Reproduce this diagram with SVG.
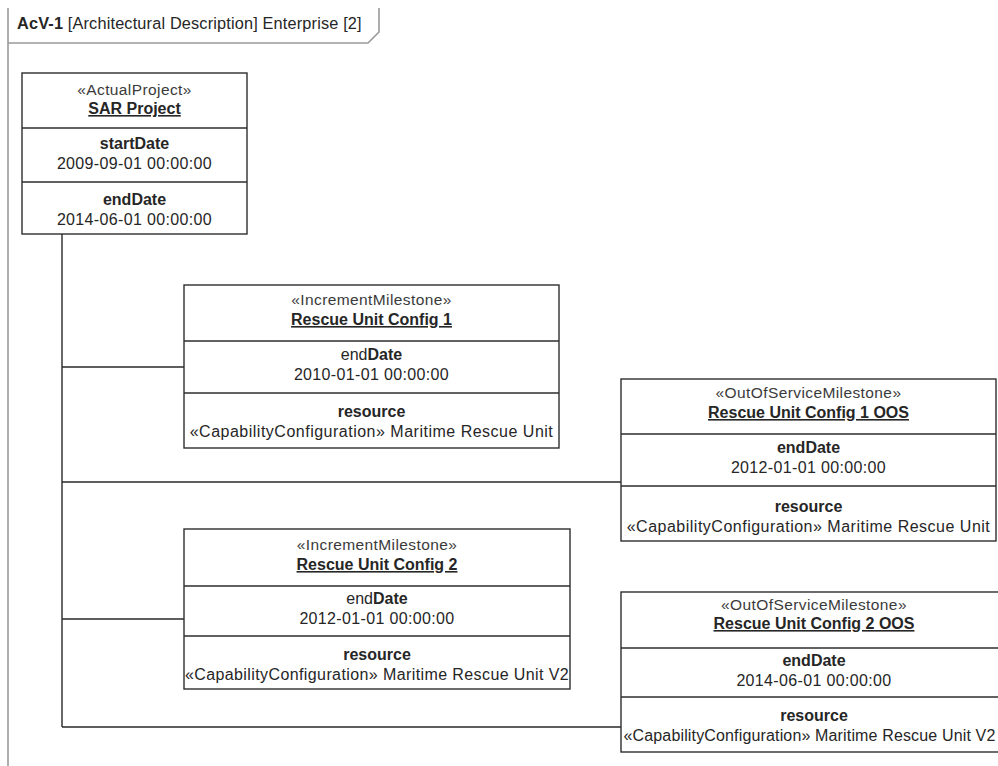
<svg xmlns="http://www.w3.org/2000/svg" width="998" height="766" viewBox="0 0 998 766">
<style>
text{font-family:"Liberation Sans",Arial,sans-serif;font-size:16px;fill:#262626;text-anchor:middle}
.st{fill:#3a3a3a;font-size:15.5px;letter-spacing:0.4px}
.nm{font-weight:bold;text-decoration:underline}
.b{font-weight:bold}
.dt{letter-spacing:0.35px}
.cap{letter-spacing:0.5px}
.cap2{letter-spacing:0.4px}
.box{fill:#fff;stroke:#2e2e2e;stroke-width:1.4}
.div{stroke:#2e2e2e;stroke-width:1.4;fill:none}
.con{stroke:#2a2a2a;stroke-width:1.4;fill:none}
.frame{stroke:#9a9a9a;stroke-width:1.6;fill:none}
</style>
<rect width="998" height="766" fill="#fff"/>
<g id="frame">
<path class="frame" d="M8,766 V8 M8,43 H368 L379,32 V8"/>
<text x="17" y="29" style="text-anchor:start;font-size:16.3px;letter-spacing:0.17px"><tspan font-weight="bold">AcV-1</tspan> [Architectural Description] Enterprise [2]</text>
</g>
<g id="connectors">
<path class="con" d="M62,234 V727 M62,367 H184 M62,482 H621 M62,619 H184 M62,727 H621"/>
</g>
<g id="sar-project">
<rect class="box" x="22" y="73" width="225" height="161"/>
<path class="div" d="M22,128 H247 M22,182 H247"/>
<text class="st" x="134.5" y="95">«ActualProject»</text>
<text class="nm" x="134.5" y="114">SAR Project</text>
<text class="b" x="134.5" y="149">startDate</text>
<text class="dt" x="134.5" y="169">2009-09-01 00:00:00</text>
<text class="b" x="134.5" y="205">endDate</text>
<text class="dt" x="134.5" y="225">2014-06-01 00:00:00</text>
</g>
<g id="rescue-unit-config-1">
<rect class="box" x="184" y="285" width="375" height="163"/>
<path class="div" d="M184,341 H559 M184,393 H559"/>
<text class="st" x="371.5" y="305">«IncrementMilestone»</text>
<text class="nm" x="371.5" y="325">Rescue Unit Config 1</text>
<text x="371.5" y="360">end<tspan font-weight="bold">Date</tspan></text>
<text class="dt" x="371.5" y="380">2010-01-01 00:00:00</text>
<text class="b" x="371.5" y="417">resource</text>
<text class="cap" x="371.5" y="437">«CapabilityConfiguration» Maritime Rescue Unit</text>
</g>
<g id="rescue-unit-config-1-oos">
<rect class="box" x="621" y="379" width="375" height="162"/>
<path class="div" d="M621,434 H996 M621,486 H996"/>
<text class="st" x="808.5" y="398">«OutOfServiceMilestone»</text>
<text class="nm" x="808.5" y="418">Rescue Unit Config 1 OOS</text>
<text class="b" x="808.5" y="453">endDate</text>
<text class="dt" x="808.5" y="473">2012-01-01 00:00:00</text>
<text class="b" x="808.5" y="512">resource</text>
<text class="cap" x="808.5" y="532">«CapabilityConfiguration» Maritime Rescue Unit</text>
</g>
<g id="rescue-unit-config-2">
<rect class="box" x="184" y="529" width="386" height="160"/>
<path class="div" d="M184,586 H570 M184,636 H570"/>
<text class="st" x="377" y="550">«IncrementMilestone»</text>
<text class="nm" x="377" y="570">Rescue Unit Config 2</text>
<text x="377" y="604">end<tspan font-weight="bold">Date</tspan></text>
<text class="dt" x="377" y="624">2012-01-01 00:00:00</text>
<text class="b" x="377" y="660">resource</text>
<text class="cap2" x="377" y="680">«CapabilityConfiguration» Maritime Rescue Unit V2</text>
</g>
<g id="rescue-unit-config-2-oos">
<rect class="box" x="621" y="592" width="390" height="160"/>
<path class="div" d="M621,648 H1011 M621,697 H1011"/>
<text class="st" x="814" y="610">«OutOfServiceMilestone»</text>
<text class="nm" x="814" y="629">Rescue Unit Config 2 OOS</text>
<text class="b" x="814" y="666">endDate</text>
<text class="dt" x="814" y="686">2014-06-01 00:00:00</text>
<text class="b" x="814" y="721">resource</text>
<text x="809.5" y="741" style="letter-spacing:0.15px">«CapabilityConfiguration» Maritime Rescue Unit V2</text>
</g>
</svg>
